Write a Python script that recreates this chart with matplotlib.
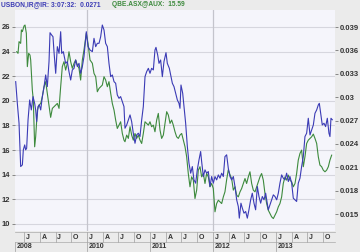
import matplotlib
matplotlib.use("Agg")
import matplotlib.pyplot as plt
import matplotlib.transforms as mtransforms
from matplotlib.ticker import FuncFormatter, FixedLocator
from matplotlib import font_manager

# ---- data (decimal years) ----
qbe_t = [2008.884, 2008.905, 2008.921, 2008.947, 2008.958, 2008.974, 2009.000, 2009.016, 2009.037, 2009.053,
         2009.074, 2009.095, 2009.106, 2009.132, 2009.148, 2009.169, 2009.185, 2009.212, 2009.238, 2009.265,
         2009.291, 2009.318, 2009.344, 2009.370, 2009.397, 2009.423, 2009.450, 2009.476, 2009.503, 2009.529,
         2009.556, 2009.582, 2009.608, 2009.635, 2009.661, 2009.688, 2009.714, 2009.741, 2009.767, 2009.794,
         2009.820, 2009.847, 2009.873, 2009.899, 2009.926, 2009.952, 2009.989, 2010.016, 2010.048, 2010.085,
         2010.111, 2010.138, 2010.164, 2010.191, 2010.217, 2010.243, 2010.270, 2010.296, 2010.323, 2010.349,
         2010.376, 2010.402, 2010.429, 2010.455, 2010.481, 2010.508, 2010.534, 2010.561, 2010.587, 2010.603,
         2010.630, 2010.656, 2010.683, 2010.709, 2010.735, 2010.762, 2010.788, 2010.815, 2010.841, 2010.868,
         2010.894, 2010.921, 2010.947, 2010.974, 2011.000, 2011.026, 2011.053, 2011.079, 2011.106, 2011.132,
         2011.159, 2011.185, 2011.212, 2011.238, 2011.265, 2011.291, 2011.318, 2011.344, 2011.370, 2011.397,
         2011.423, 2011.450, 2011.476, 2011.503, 2011.529, 2011.556, 2011.582, 2011.608, 2011.635, 2011.661,
         2011.688, 2011.714, 2011.741, 2011.767, 2011.794, 2011.820, 2011.847, 2011.873, 2011.899, 2011.926,
         2011.952, 2011.979, 2012.005, 2012.032, 2012.058, 2012.085, 2012.111, 2012.138, 2012.164, 2012.190,
         2012.217, 2012.243, 2012.270, 2012.296, 2012.323, 2012.349, 2012.376, 2012.402, 2012.429, 2012.455,
         2012.481, 2012.508, 2012.534, 2012.561, 2012.587, 2012.614, 2012.640, 2012.667, 2012.693, 2012.720,
         2012.746, 2012.772, 2012.799, 2012.825, 2012.852, 2012.878, 2012.905, 2012.931, 2012.958, 2012.984,
         2013.011, 2013.037, 2013.063, 2013.090, 2013.116, 2013.143, 2013.169, 2013.196, 2013.222, 2013.249,
         2013.275, 2013.302, 2013.328, 2013.354, 2013.381, 2013.407, 2013.434, 2013.460, 2013.487, 2013.513,
         2013.540, 2013.566, 2013.593, 2013.619, 2013.646, 2013.672, 2013.698, 2013.725, 2013.751, 2013.778,
         2013.804, 2013.831, 2013.857, 2013.884]
qbe_v = [23.99, 23.86, 24.81, 24.67, 25.76, 25.62, 26.08, 26.16, 25.49, 22.78,
         23.86, 23.72, 23.32, 20.88, 20.07, 16.27, 17.08, 19.25, 19.66, 19.79,
         20.34, 21.15, 21.56, 20.61, 19.66, 18.66, 19.39, 19.52, 19.66, 19.79,
         19.39, 21.15, 22.78, 23.18, 22.50, 23.05, 23.99, 23.18, 22.64, 23.05,
         23.32, 22.91, 22.64, 21.69, 23.32, 24.13, 25.49, 24.67, 23.32, 23.05,
         22.23, 21.96, 20.74, 21.01, 21.15, 21.28, 21.96, 21.69, 21.15, 21.56,
         20.61, 19.79, 19.25, 18.44, 17.76, 18.03, 18.30, 17.35, 16.81, 16.68,
         17.22, 16.95, 17.90, 17.22, 16.81, 17.35, 16.95, 17.22, 16.81, 16.54,
         17.35, 18.30, 18.17, 18.03, 18.30, 17.90, 18.03, 17.49, 18.44, 18.98,
         17.63, 16.95, 17.22, 18.17, 19.12, 18.85, 18.17, 18.44, 18.03, 17.49,
         17.08, 16.95, 17.22, 17.35, 16.81, 16.27, 15.46, 14.10, 13.02, 13.83,
         13.56, 12.07, 12.75, 14.37, 14.65, 13.83, 14.10, 13.29, 14.10, 13.83,
         13.02, 13.29, 12.88, 10.99, 11.66, 11.93, 11.80, 11.66, 12.20, 12.61,
         13.60, 14.40, 14.00, 13.69, 12.75, 13.02, 12.34, 12.20, 12.61, 12.88,
         13.29, 13.69, 13.29, 13.83, 14.24, 13.29, 12.75, 12.61, 13.02, 13.43,
         13.83, 14.10, 13.56, 12.48, 11.66, 11.12, 10.85, 10.58, 10.44, 10.72,
         10.99, 11.39, 11.66, 12.20, 13.29, 13.83, 13.56, 13.97, 13.56, 13.43,
         13.02, 13.29, 14.10, 15.19, 15.73, 16.00, 14.65, 15.46, 16.54, 16.81,
         16.95, 17.08, 17.30, 16.95, 16.54, 15.46, 14.78, 14.65, 14.37, 14.24,
         14.37, 14.65, 15.19, 15.59]

bond_t = [2008.868, 2008.894, 2008.921, 2008.937, 2008.947, 2008.974, 2008.989, 2009.011, 2009.026, 2009.042,
          2009.064, 2009.090, 2009.116, 2009.143, 2009.169, 2009.185, 2009.201, 2009.222, 2009.243, 2009.265,
          2009.291, 2009.318, 2009.344, 2009.370, 2009.397, 2009.413, 2009.439, 2009.460, 2009.476, 2009.503,
          2009.529, 2009.556, 2009.582, 2009.598, 2009.624, 2009.661, 2009.688, 2009.714, 2009.741, 2009.767,
          2009.794, 2009.820, 2009.847, 2009.873, 2009.899, 2009.926, 2009.952, 2009.989, 2010.016, 2010.048,
          2010.085, 2010.111, 2010.138, 2010.164, 2010.191, 2010.217, 2010.243, 2010.270, 2010.296, 2010.323,
          2010.349, 2010.376, 2010.402, 2010.429, 2010.455, 2010.481, 2010.508, 2010.534, 2010.561, 2010.587,
          2010.603, 2010.630, 2010.656, 2010.683, 2010.709, 2010.735, 2010.762, 2010.788, 2010.815, 2010.841,
          2010.868, 2010.894, 2010.921, 2010.947, 2010.974, 2011.000, 2011.026, 2011.053, 2011.079, 2011.095,
          2011.122, 2011.143, 2011.169, 2011.196, 2011.222, 2011.254, 2011.275, 2011.307, 2011.328, 2011.355,
          2011.381, 2011.407, 2011.434, 2011.460, 2011.476, 2011.492, 2011.519, 2011.540, 2011.566, 2011.593,
          2011.619, 2011.646, 2011.672, 2011.698, 2011.725, 2011.751, 2011.778, 2011.804, 2011.820, 2011.847,
          2011.873, 2011.899, 2011.926, 2011.952, 2011.979, 2012.005, 2012.032, 2012.058, 2012.085, 2012.111,
          2012.138, 2012.164, 2012.190, 2012.217, 2012.243, 2012.270, 2012.296, 2012.323, 2012.349, 2012.376,
          2012.402, 2012.418, 2012.444, 2012.466, 2012.492, 2012.519, 2012.545, 2012.571, 2012.598, 2012.624,
          2012.651, 2012.677, 2012.704, 2012.730, 2012.757, 2012.783, 2012.810, 2012.836, 2012.862, 2012.878,
          2012.905, 2012.931, 2012.958, 2012.984, 2013.011, 2013.037, 2013.063, 2013.090, 2013.116, 2013.143,
          2013.169, 2013.196, 2013.222, 2013.249, 2013.275, 2013.302, 2013.328, 2013.354, 2013.381, 2013.407,
          2013.434, 2013.460, 2013.487, 2013.513, 2013.540, 2013.566, 2013.593, 2013.619, 2013.646, 2013.672,
          2013.688, 2013.709, 2013.735, 2013.762, 2013.788, 2013.815, 2013.841, 2013.857, 2013.873, 2013.894]
bond_v = [0.03199, 0.02921, 0.02665, 0.02323, 0.02109, 0.02131, 0.02323, 0.02387, 0.02323, 0.02344,
          0.02708, 0.02964, 0.02836, 0.03007, 0.02921, 0.02836, 0.02686, 0.02879, 0.02900, 0.02836,
          0.03007, 0.03135, 0.03285, 0.03135, 0.03456, 0.03827, 0.03797, 0.03776, 0.03584, 0.03306,
          0.03648, 0.03562, 0.03840, 0.03562, 0.03584, 0.03434, 0.03456, 0.03327, 0.03220, 0.03349,
          0.03370, 0.03477, 0.03392, 0.03434, 0.03306, 0.03392, 0.03520, 0.03840, 0.03648, 0.03605,
          0.03584, 0.03755, 0.03648, 0.03691, 0.03691, 0.03776, 0.03926, 0.03862, 0.03691, 0.03648,
          0.03434, 0.03263, 0.03285, 0.03199, 0.03178, 0.03028, 0.02985, 0.03007, 0.02943, 0.02879,
          0.02601, 0.02643, 0.02708, 0.02772, 0.02686, 0.02537, 0.02408, 0.02515, 0.02537, 0.02494,
          0.02708, 0.02879, 0.03263, 0.03327, 0.03370, 0.03306, 0.03370, 0.03349, 0.03605, 0.03639,
          0.03541, 0.03434, 0.03477, 0.03263, 0.03456, 0.03571, 0.03434, 0.03370, 0.03285, 0.03178,
          0.03135, 0.03050, 0.02964, 0.02921, 0.02857, 0.03156, 0.03050, 0.02879, 0.02665, 0.02366,
          0.02152, 0.02024, 0.02109, 0.01938, 0.01896, 0.02067, 0.02195, 0.02302, 0.02173, 0.01981,
          0.02067, 0.02024, 0.02045, 0.01853, 0.01981, 0.01896, 0.01981, 0.01938, 0.02002, 0.01960,
          0.02024, 0.01981, 0.02237, 0.02260, 0.02088, 0.01981, 0.01938, 0.01981, 0.01853, 0.01682,
          0.01596, 0.01447, 0.01639, 0.01575, 0.01511, 0.01532, 0.01447, 0.01554, 0.01682, 0.01767,
          0.01639, 0.01554, 0.01853, 0.01725, 0.01639, 0.01725, 0.01682, 0.01767, 0.01639, 0.01554,
          0.01618, 0.01682, 0.01746, 0.01725, 0.01682, 0.01767, 0.01896, 0.02002, 0.01960, 0.01938,
          0.02024, 0.01917, 0.01981, 0.01896, 0.01703, 0.01682, 0.01661, 0.01896, 0.01960, 0.02109,
          0.02237, 0.02494, 0.02537, 0.02729, 0.02515, 0.02579, 0.02643, 0.02793, 0.02836, 0.02900,
          0.02921, 0.02793, 0.02643, 0.02665, 0.02622, 0.02729, 0.02537, 0.02494, 0.02729, 0.02710]

left_ticks = [10, 12, 14, 16, 18, 20, 22, 24, 26]
right_ticks = [0.015, 0.018, 0.021, 0.024, 0.027, 0.030, 0.033, 0.036, 0.039]
quarter_labels = ["J", "A", "J", "O"]
quarter_years = [2009, 2010, 2011, 2012, 2013]
year_labels = ["2008", "2010", "2011", "2012", "2013"]
year_pos = [2008.857, 2010, 2011, 2012, 2013]
vgrid_years = [2010, 2012]

header_left = "USBON,IR@IR: 3:07:32:  0.0271"
header_right = "QBE.ASX@AUX:  15.59"

BLUE = "#3b3bb5"
GREEN = "#3d8a3d"
FONT = "Liberation Sans"
_names = {f.name for f in font_manager.fontManager.ttflist}
NARROW = "Liberation Sans Narrow" if "Liberation Sans Narrow" in _names else FONT
HSIZE = 5.5 if NARROW != FONT else 4.8

fig = plt.figure(figsize=(3.6, 2.52), dpi=100, facecolor="#ebebeb")
ax = fig.add_axes([15/360, 21/252, 320/360, 221.5/252])
ax.set_facecolor("#f5f5fb")
ax2 = ax.twinx()

ax.set_xlim(2008.857, 2013.937)
ax.set_ylim(9.43, 27.42)
ax2.set_ylim(0.01282, 0.04125)

for y in left_ticks:
    ax.axhline(y, color="#d6d6de", lw=0.8, zorder=0)
for x in vgrid_years:
    ax.axvline(x, color="#c4c4cc", lw=0.9, zorder=0)

ax.plot(qbe_t, qbe_v, color=GREEN, lw=0.8)
ax2.plot(bond_t, bond_v, color=BLUE, lw=0.8)

for a in (ax, ax2):
    for s in a.spines.values():
        s.set_visible(False)

ax.yaxis.set_major_locator(FixedLocator(left_ticks))
ax.yaxis.set_major_formatter(FuncFormatter(lambda v, p: f"{int(v)}"))
ax2.yaxis.set_major_locator(FixedLocator(right_ticks))
ax2.yaxis.set_major_formatter(FuncFormatter(lambda v, p: f"{v:.3f}".rstrip("0")))
ax.tick_params(axis="y", length=2, width=0.6, color="#777777", pad=1.5,
               labelsize=5.5, labelcolor="#333333")
ax2.tick_params(axis="y", length=2, width=0.6, color="#777777", pad=1.5,
                labelsize=5.5, labelcolor="#333333")
for lab in ax.get_yticklabels() + ax2.get_yticklabels():
    lab.set_fontweight("bold")
    lab.set_family(FONT)
ax.set_xticks([])

trans = mtransforms.blended_transform_factory(ax.transData, ax.transAxes)
# quarter row
for yr in quarter_years:
    for i, q in enumerate(quarter_labels):
        t = yr + i * 0.25
        ax.text(t + 0.03, -0.029, q, transform=trans, fontsize=5, fontweight="bold",
                family=FONT, color="#333333", ha="left", va="center", clip_on=False)
        ax.plot([t, t], [-0.004, -0.05], transform=trans, color="#aaaaaa", lw=0.6, clip_on=False)
# year row
for lab, t in zip(year_labels, year_pos):
    ax.text(t + 0.02, -0.07, lab, transform=trans, fontsize=5, fontweight="bold",
            family=FONT, color="#333333", ha="left", va="center", clip_on=False)
    ax.plot([t, t], [-0.05, -0.09], transform=trans, color="#aaaaaa", lw=0.6, clip_on=False)
ax.plot([2008.857, 2013.937], [-0.05, -0.05], transform=trans, color="#aaaaaa", lw=0.5, clip_on=False)
ax.plot([2008.857, 2013.937], [-0.004, -0.004], transform=trans, color="#aaaaaa", lw=0.5, clip_on=False)

fig.text(0.003, 1 - 4.5/252, header_left, color=BLUE, fontsize=HSIZE, fontweight="bold",
         family=NARROW, ha="left", va="center")
fig.text(112/360, 1 - 4.5/252, header_right, color=GREEN, fontsize=HSIZE, fontweight="bold",
         family=NARROW, ha="left", va="center")

fig.savefig("out.png", dpi=100, facecolor=fig.get_facecolor())
